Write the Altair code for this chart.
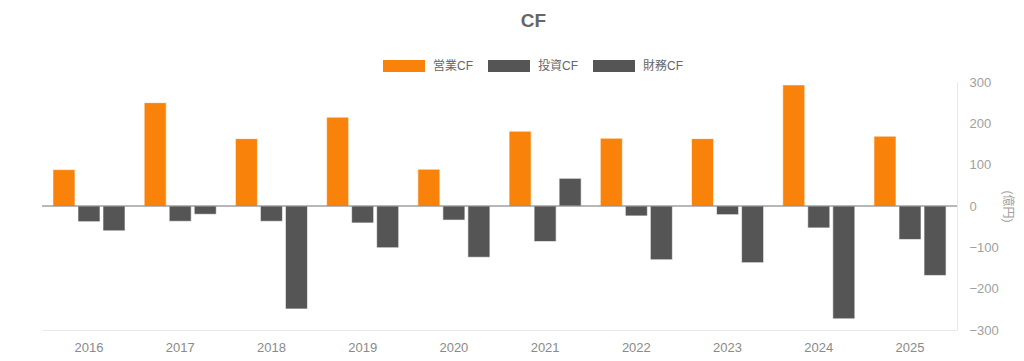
import altair as alt
import pandas as pd

years = [str(y) for y in range(2016, 2026)]
series = ["営業CF", "投資CF", "財務CF"]
operating = [88, 250, 163, 215, 89, 181, 164, 163, 293, 169]
investing = [-38, -37, -37, -41, -34, -86, -24, -21, -53, -81]
financing = [-60, -20, -249, -101, -124, 67, -130, -137, -273, -168]
y_ticks = [-300, -200, -100, 0, 100, 200, 300]
colors = ["#f9820a", "#555555", "#555555"]

rows = []
for name, vals in zip(series, [operating, investing, financing]):
    for yr, v in zip(years, vals):
        rows.append({"year": yr, "series": name, "value": v})
df = pd.DataFrame(rows)

FONT = "Liberation Sans, Arial, Noto Sans CJK JP, sans-serif"

bars = alt.Chart(df).mark_bar(
    stroke="white", strokeWidth=1, strokeOpacity=0.6
).encode(
    x=alt.X(
        "year:N",
        sort=years,
        scale=alt.Scale(paddingInner=0.21, paddingOuter=0.12),
        axis=alt.Axis(
            title=None, labelAngle=0, ticks=False, domainColor="#e8e8e8",
            labelColor="#8a8a8a", labelFontSize=13, labelPadding=11, labelFont=FONT,
        ),
    ),
    xOffset=alt.XOffset("series:N", sort=series, scale=alt.Scale(paddingInner=0.12)),
    y=alt.Y(
        "value:Q",
        scale=alt.Scale(domain=[-300, 300], nice=False),
        axis=alt.Axis(
            orient="right", values=y_ticks, title="(億円)", grid=False, ticks=False,
            domainColor="#e8e8e8", labelColor="#a0a0a0", labelFontSize=13,
            labelPadding=12, labelFont=FONT, titleColor="#a0a0a0", titleFontSize=12,
            titleFontWeight="normal", titleFont=FONT, titlePadding=2,
        ),
    ),
    color=alt.Color(
        "series:N",
        sort=series,
        scale=alt.Scale(domain=series, range=colors),
        legend=alt.Legend(
            title=None, orient="none", legendX=341, legendY=-37, direction="horizontal",
            symbolType="M-1,-0.28L1,-0.28L1,0.28L-1,0.28Z", symbolSize=1764,
            symbolStrokeWidth=0, symbolOpacity=1, labelFontSize=12, labelColor="#666666",
            labelFont=FONT, labelOffset=8, columnPadding=15,
        ),
    ),
)

zero = alt.Chart(pd.DataFrame({"v": [0]})).mark_rule(color="#707070", strokeWidth=1).encode(
    y=alt.Y("v:Q", scale=alt.Scale(domain=[-300, 300], nice=False))
)

chart = alt.layer(bars, zero).properties(
    width=915,
    height=248,
    title=alt.TitleParams(
        "CF", fontSize=19, fontWeight="bold", color="#666666", font=FONT,
        anchor="middle", dx=34, offset=14,
    ),
    autosize=alt.AutoSizeParams(type="none"),
    padding={"left": 34, "top": 74, "right": 59, "bottom": 23},
).configure_view(stroke=None)

chart.save("out.html", embed_options={"renderer": "svg", "actions": False})
